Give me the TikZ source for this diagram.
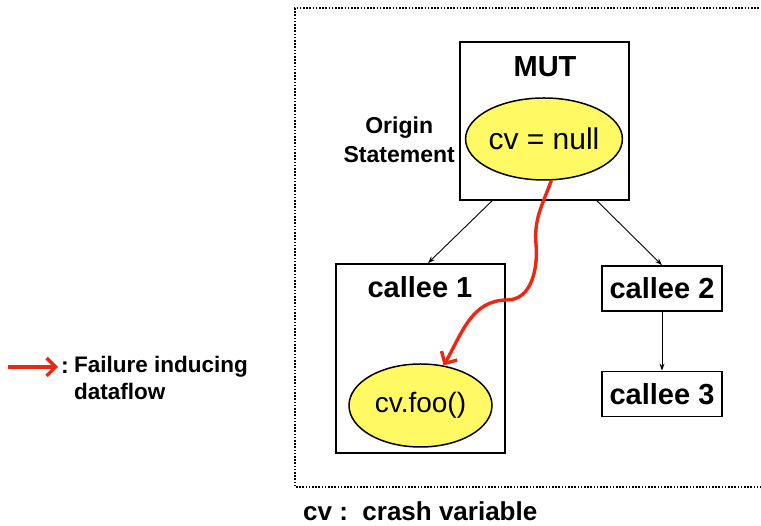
\documentclass[tikz,border=0pt]{standalone}
\usepackage{fontspec}
\setmainfont{Liberation Sans}
\usetikzlibrary{shapes.geometric,arrows.meta}
\definecolor{stmtyellow}{RGB}{255,250,100}
\definecolor{flowred}{RGB}{236,40,20}
\tikzset{
  method/.style={draw, line width=1.8pt, inner sep=0pt},
  stmt/.style={ellipse, draw, line width=1.5pt, fill=stmtyellow, inner sep=0pt},
  call/.style={-{Stealth[length=7pt,width=5pt]}, line width=0.9pt},
  flow/.style={-{Straight Barb[length=9pt,width=18pt]}, flowred, line width=3.4pt},
  big/.style={font=\fontsize{29}{34}\selectfont\bfseries},
}

\begin{document}
\begin{tikzpicture}[x=1pt,y=1pt]
    \useasboundingbox (0,0) rectangle (761,526);
    % Dotted frame, open on the right
    \draw[line width=1.6pt, dash pattern=on 1.6pt off 1.6pt] (775,518) -- (295,518) -- (295,39) -- (775,39);

    % Method under test
    \node[method, minimum width=169pt, minimum height=158pt] (mut) at (544.5,405) {};
    \node[big, anchor=base, inner sep=0pt] (mutlabel) at (545,449) {MUT};
    \node[stmt, minimum width=142pt, minimum height=82pt, font=\fontsize{30}{36}\selectfont] (null) at (544,387) {cv = null};
    \node[font=\fontsize{23}{29}\selectfont\bfseries, align=center, anchor=east, inner sep=0pt] (origin) at (455,386) {Origin\\Statement};

    % Callees
    \node[method, minimum width=169pt, minimum height=189pt] (callee1) at (420.5,167.5) {};
    \node[big, anchor=base, inner sep=0pt] (callee1label) at (420,228) {callee 1};
    \node[stmt, minimum width=143pt, minimum height=83pt, font=\fontsize{28}{34}\selectfont] (foo) at (420.5,120.5) {cv.foo()};
    \foreach \n/\y in {2/237.5, 3/132} {
        \node[method, big, minimum width=120pt, minimum height=45pt] (callee\n) at (662,\y) {callee \n};
    }

    % Calls
    \draw[call] ([xshift=-52.5pt]mut.south) -- ([xshift=7.5pt]callee1.north);
    \draw[call] ([xshift=52.5pt]mut.south) -- (callee2.north);
    \draw[call] (callee2) -- (callee3);

    % Failure inducing dataflow
    \coordinate (dip) at (536,282);
    \coordinate (turn) at (507,226);
    \draw[flow] (null.-80) to[out=-110,in=95] (dip) to[out=-85,in=0] (turn) to[out=180,in=60] (foo.60);

    % Legend
    \coordinate (legtail) at (8,159);
    \node[anchor=base west, inner sep=3pt, font=\fontsize{23}{27}\selectfont\bfseries] (legend) at (58,152) {:};
    \node[anchor=north west, inner sep=0pt, align=left, font=\fontsize{22.5}{27}\selectfont\bfseries] (legtext) at (74,170) {Failure inducing\\dataflow};
    \draw[flow] (legtail) -- (legtail -| legend.west);

    \node[anchor=base west, inner sep=0pt, font=\fontsize{26}{30}\selectfont\bfseries] (cvnote) at (303,5) {cv :\ \ crash variable};
\end{tikzpicture}
\end{document}
